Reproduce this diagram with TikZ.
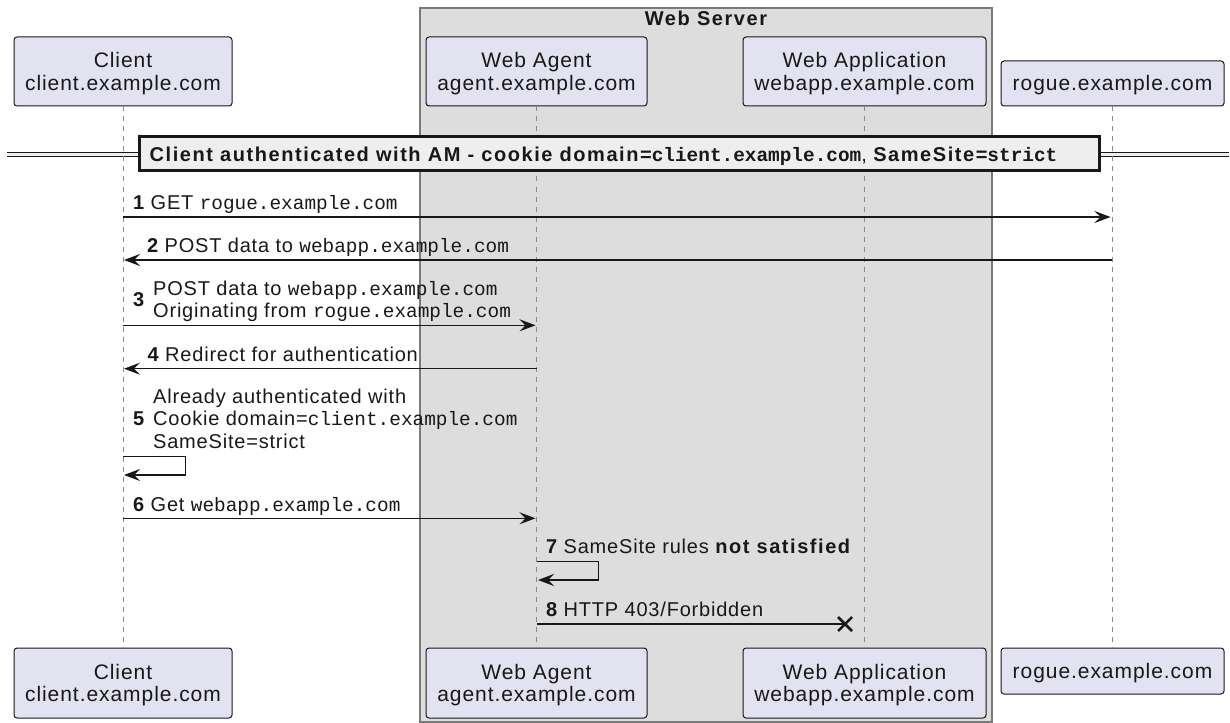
\documentclass[tikz,border=0pt]{standalone}
\usepackage{fontspec}
\setmainfont{Liberation Sans}
\setmonofont{Liberation Mono}
\newfontfamily\msgf{Liberation Sans}[LetterSpace=4]
\newfontfamily\partf{Liberation Sans}[LetterSpace=4.5]
\newfontfamily\wideb{Liberation Sans}[LetterSpace=7.8]
\usetikzlibrary{arrows.meta}

\definecolor{partfill}{HTML}{E2E2F0}
\definecolor{ink}{HTML}{181818}
\definecolor{boxfill}{HTML}{DDDDDD}
\definecolor{boxline}{HTML}{7A7A7A}
\definecolor{lifec}{HTML}{8A8A8A}
\definecolor{divfill}{HTML}{EEEEEE}

\newcommand{\mtt}[1]{{\ttfamily\fontsize{19.4}{22}\selectfont #1}}
\newcommand{\mttb}[1]{{\ttfamily\bfseries\fontsize{19.4}{22}\selectfont #1}}

\tikzset{
  part/.style={draw=ink, fill=partfill, line width=1pt, rounded corners=3pt, inner sep=0pt, minimum height=69pt},
  ptxt/.style={anchor=base, inner sep=0pt, font=\partf\fontsize{21}{23}\selectfont, text=ink},
  life/.style={draw=lifec, line width=1pt, dash pattern=on 5pt off 5pt},
  msg/.style={draw=ink, line width=1.5pt, -{Stealth[length=16pt,width=12pt,inset=6pt]}},
  plainmsg/.style={draw=ink, line width=1.5pt},
  mtxt/.style={anchor=base west, inner sep=0pt, font=\msgf\fontsize{20}{22}\selectfont, text=ink},
  xmark/.style={draw=ink, line width=2.5pt},
}

\begin{document}
\begin{tikzpicture}[x=1pt,y=-1pt]
\useasboundingbox (0,0) rectangle (1230,722);

% Web Server box
\node[draw=boxline, fill=boxfill, line width=1.5pt, inner sep=0pt, minimum width=572pt, minimum height=714pt] (srv) at (706,365) {};
\node[anchor=base, inner sep=0pt, font=\wideb\bfseries\fontsize{20}{22}\selectfont, text=ink] (srvT) at (706,26) {Web Server};

% divider double line
\fill[divfill] (7,152.5) rectangle (1229,156.5);
\coordinate (dl1) at (7,152.5);
\coordinate (dr1) at (1229,152.5);
\coordinate (dl2) at (7,156.5);
\coordinate (dr2) at (1229,156.5);
\draw[ink, line width=1.3pt] (dl1) -- (dr1);
\draw[ink, line width=1.3pt] (dl2) -- (dr2);

% participants top
\node[part, minimum width=218pt] (clT) at (123,71.5) {};
\node[part, minimum width=221pt] (agT) at (536.5,71.5) {};
\node[part, minimum width=243pt] (waT) at (864.5,71.5) {};
\node[part, minimum width=223pt, minimum height=45pt] (rgT) at (1112.5,83.5) {};
% participants bottom
\node[part, minimum width=218pt, minimum height=70pt] (clB) at (123,683) {};
\node[part, minimum width=221pt, minimum height=70pt] (agB) at (536.5,683) {};
\node[part, minimum width=243pt, minimum height=70pt] (waB) at (864.5,683) {};
\node[part, minimum width=223pt, minimum height=46pt] (rgB) at (1112.5,671) {};

% lifelines
\draw[life] (clT.south) -- (clB.north);
\draw[life] (agT.south) -- (agB.north);
\draw[life] (waT.south) -- (waB.north);
\draw[life] (rgT.south) -- (rgB.north);

% participant labels
\node[ptxt] (clT1) at (123,68) {Client};
\node[ptxt] (clT2) at (123,91) {client.example.com};
\node[ptxt] (agT1) at (536.5,68) {Web Agent};
\node[ptxt] (agT2) at (536.5,91) {agent.example.com};
\node[ptxt] (waT1) at (864.5,68) {Web Application};
\node[ptxt] (waT2) at (864.5,91) {webapp.example.com};
\node[ptxt] (rgT1) at (1112.5,91) {rogue.example.com};
\node[ptxt] (clB1) at (123,679) {Client};
\node[ptxt] (clB2) at (123,701.5) {client.example.com};
\node[ptxt] (agB1) at (536.5,679) {Web Agent};
\node[ptxt] (agB2) at (536.5,701.5) {agent.example.com};
\node[ptxt] (waB1) at (864.5,679) {Web Application};
\node[ptxt] (waB2) at (864.5,701.5) {webapp.example.com};
\node[ptxt] (rgB1) at (1112.5,678) {rogue.example.com};

% divider box
\node[draw=ink, fill=divfill, line width=3pt, inner sep=0pt, minimum width=960pt, minimum height=34pt] (div) at (619,154) {};
\node[mtxt] (divT) at (149.5,161) {{\wideb\bfseries Client authenticated with AM - cookie domain=}\mttb{client.example.com}, {\wideb\bfseries SameSite=}\mttb{strict}};

% message coordinates
\coordinate (m1a) at (122.7,217);   \coordinate (m1b) at (1110.5,217);
\coordinate (m2a) at (1111.7,260);  \coordinate (m2b) at (124,260);
\coordinate (m3a) at (122.7,325.3); \coordinate (m3b) at (535.5,325.3);
\coordinate (m4a) at (536.7,368.7); \coordinate (m4b) at (124,368.7);
\coordinate (m5a) at (122.7,456.7); \coordinate (m5b) at (185.3,456.7);
\coordinate (m5c) at (185.3,475);   \coordinate (m5d) at (124,475);
\coordinate (m6a) at (122.7,518.3); \coordinate (m6b) at (535.5,518.3);
\coordinate (m7a) at (536.7,561.7); \coordinate (m7b) at (598.7,561.7);
\coordinate (m7c) at (598.7,580);   \coordinate (m7d) at (538,580);
\coordinate (m8a) at (536.7,624);   \coordinate (m8b) at (845,624);

\draw[msg] (m1a) -- (m1b);
\draw[msg] (m2a) -- (m2b);
\draw[msg] (m3a) -- (m3b);
\draw[msg] (m4a) -- (m4b);
\draw[msg] (m5a) -- (m5b) -- (m5c) -- (m5d);
\draw[msg] (m6a) -- (m6b);
\draw[msg] (m7a) -- (m7b) -- (m7c) -- (m7d);
\draw[plainmsg] (m8a) -- (m8b);
\draw[xmark] ([shift={(-7,-7)}]m8b) -- ([shift={(7,7)}]m8b);
\draw[xmark] ([shift={(-7,7)}]m8b) -- ([shift={(7,-7)}]m8b);

% message labels
\node[mtxt] (l1) at (133,209.3) {{\bfseries 1} GET \mtt{rogue.example.com}};
\node[mtxt] (l2) at (147,252.7) {{\bfseries 2} POST data to \mtt{webapp.example.com}};
\node[mtxt] (l3n) at (133,306.5) {\bfseries 3};
\node[mtxt] (l3a) at (153,295) {POST data to \mtt{webapp.example.com}};
\node[mtxt] (l3b) at (153,317.3) {Originating from \mtt{rogue.example.com}};
\node[mtxt] (l4) at (147.5,361.7) {{\bfseries 4} Redirect for authentication};
\node[mtxt] (l5n) at (133,425.8) {\bfseries 5};
\node[mtxt] (l5a) at (153,403.3) {Already authenticated with};
\node[mtxt] (l5b) at (153,425.8) {Cookie domain=\mtt{client.example.com}};
\node[mtxt] (l5c) at (153,448.3) {SameSite=strict};
\node[mtxt] (l6) at (133,511) {{\bfseries 6} Get \mtt{webapp.example.com}};
\node[mtxt] (l7) at (546,553.3) {{\bfseries 7} SameSite rules {\wideb\bfseries not satisfied}};
\node[mtxt] (l8) at (546,616.7) {{\bfseries 8} HTTP 403/Forbidden};
\end{tikzpicture}
\end{document}
